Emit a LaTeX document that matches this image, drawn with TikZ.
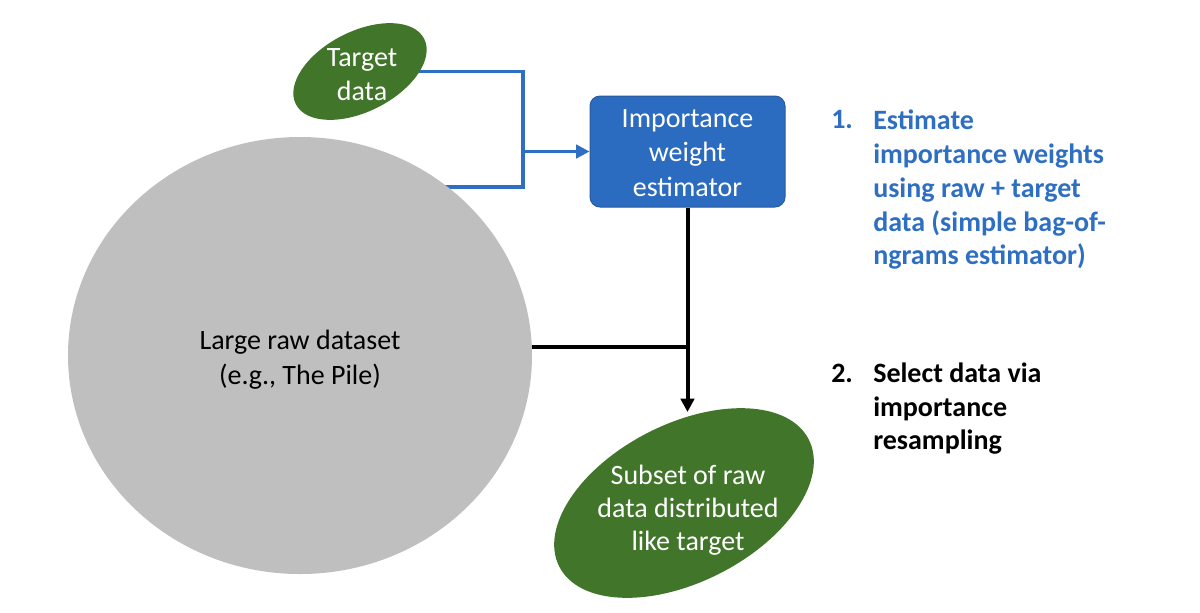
\documentclass[tikz,border=0pt]{standalone}
\usepackage{fontspec}
\setmainfont{Carlito}
\usetikzlibrary{arrows.meta,shapes.geometric,backgrounds}
\definecolor{grn}{HTML}{40752A}
\definecolor{bfill}{HTML}{2B6BC0}
\definecolor{bdraw}{HTML}{2A5B9E}
\definecolor{btext}{HTML}{2E6FC2}
\definecolor{bline}{HTML}{2E6FC4}
\definecolor{gry}{HTML}{BFBFBF}
\begin{document}
\begin{tikzpicture}[x=0.75pt,y=-0.75pt,
  font=\fontsize{21}{25.8}\selectfont,
  greenell/.style={ellipse, fill=grn, draw=none, inner sep=0pt},
  wtext/.style={text=white, align=center, inner sep=0pt},
  blueconn/.style={draw=bline, line width=2.4pt},
  blackconn/.style={draw=black, line width=3pt},
  tip/.style={-{Triangle[length=10pt,width=10pt]}},
  steptext/.style={anchor=north west, align=left, inner sep=0pt,
     font=\fontsize{21}{25.3}\selectfont\bfseries},
  stepnum/.style={anchor=base west, inner sep=0pt,
     font=\fontsize{21}{25}\selectfont\bfseries}]
\useasboundingbox (0,0) rectangle (1200,612);
% shapes
\node[ellipse, fill=gry, inner sep=0pt, minimum width=348pt, minimum height=327.75pt] (big) at (300,355.5) {};
\node[align=center, inner sep=0pt, font=\fontsize{21}{26.2}\selectfont] (bigtxt) at (300,359.5) {Large raw dataset\\(e.g., The Pile)};
\node[greenell, rotate=27, minimum width=108pt, minimum height=60pt] (tgt) at (360,71.5) {};
\node[wtext, font=\fontsize{21}{25.4}\selectfont] (tgttxt) at (362,74.5) {Target\\data};
\node[greenell, rotate=27, minimum width=210pt, minimum height=118.5pt] (sub) at (684,503) {};
\node[wtext, font=\fontsize{21}{24.8}\selectfont] (subtxt) at (688,510.5) {Subset of raw\\data distributed\\like target};
\node[rounded corners=7.5pt, fill=bfill, draw=bdraw, line width=0.75pt,
      minimum width=146.25pt, minimum height=83.25pt, text=white, align=center,
      font=\fontsize{21}{25.9}\selectfont] (box) at (687.5,151.5) {};
\node[wtext, font=\fontsize{21}{25.9}\selectfont] (boxtxt) at (687.5,153) {Importance\\weight\\estimator};
% connectors
\coordinate (bj) at (523,187);
\coordinate (kj) at (687.5,347);
\coordinate (subtop) at (687.5,412);
\begin{scope}[on background layer]
\draw[blueconn] (tgt.center) -| (bj) -- (big.center |- bj);
\draw[blueconn, tip] (bj |- box.west) -- (box.west);
\draw[blackconn] (big.center |- kj) -- (kj);
\draw[blackconn, tip] (box.south) -- (subtop);
\end{scope}
% steps
\node[stepnum, text=btext] (n1) at (831,128) {1.};
\node[steptext, text=btext] (s1) at (873,110) {Estimate\\importance weights\\using raw + target\\data (simple bag-of-\\ngrams estimator)};
\node[stepnum] (n2) at (831,382) {2.};
\node[steptext] (s2) at (873,362.5) {Select data via\\importance\\resampling};
\end{tikzpicture}
\end{document}
